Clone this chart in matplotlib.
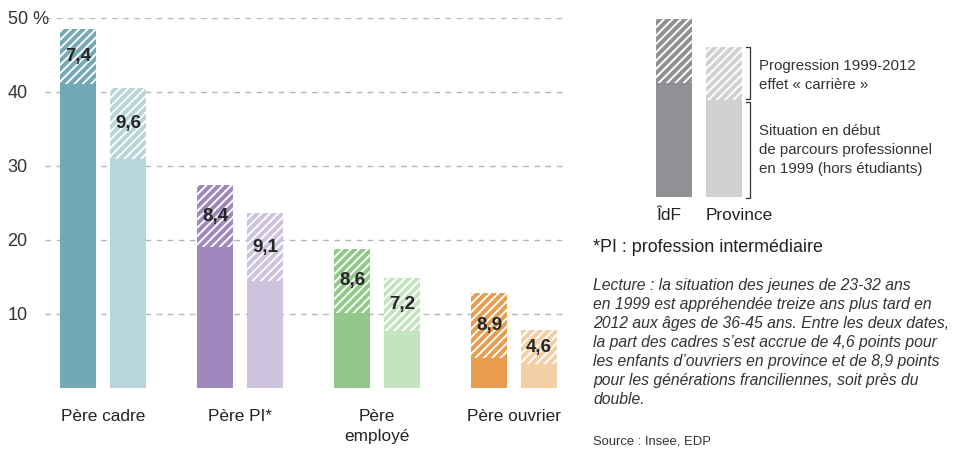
import matplotlib
matplotlib.use("Agg")
import numpy as np
import matplotlib.pyplot as plt
from matplotlib.lines import Line2D

plt.rcParams['font.family'] = ['Liberation Sans', 'DejaVu Sans']
plt.rcParams['hatch.linewidth'] = 1.4

# data
groups = ['Père cadre', 'Père PI*', 'Père\nemployé', 'Père ouvrier']
idf_base = [41.1, 19.0, 10.2, 4.0]
idf_prog = [7.4, 8.4, 8.6, 8.9]
prov_base = [30.9, 14.5, 7.7, 3.2]
prov_prog = [9.6, 9.1, 7.2, 4.6]
idf_colors = ['#72a9b5', '#9e88bd', '#92c78a', '#e79d4d']
prov_colors = ['#b7d5db', '#cdc3de', '#c6e3c1', '#f4cfa6']
yticks = [10, 20, 30, 40, 50]
ytick_labels = ['10', '20', '30', '40', '50 %']

# legend key (illustrative heights)
key_labels = ['ÎdF', 'Province']
key_base = [114, 97]
key_prog = [64, 53]
key_colors = ['#8f9194', '#d0d1d3']

W, H = 964, 450
fig = plt.figure(figsize=(W / 100, H / 100), dpi=100)


def fx(px):
    return px / W


def fy(py):
    return 1 - py / H


ax = fig.add_axes([fx(45), fy(388), fx(565) - fx(45), fy(18) - fy(388)])
x = np.arange(len(groups))
w = 0.263
off = 0.1825

for i in range(len(groups)):
    for xpos, base, prog, col in [(x[i] - off, idf_base[i], idf_prog[i], idf_colors[i]),
                                  (x[i] + off, prov_base[i], prov_prog[i], prov_colors[i])]:
        ax.bar(xpos, base, width=w, color=col, linewidth=0, zorder=2)
        ax.bar(xpos, prog, width=w, bottom=base, color=col, edgecolor='white',
               hatch='////', linewidth=0, zorder=2)
        ax.text(xpos, base + prog / 2, f'{prog:.1f}'.replace('.', ','),
                ha='center', va='center', fontsize=13.5, fontweight='bold',
                color='#262626', zorder=3)

ax.set_xlim(-0.423, 3.372)
ax.set_ylim(0, 50)
ax.set_yticks(yticks)
ax.set_yticklabels(ytick_labels, ha='left')
ax.set_xticks(x)
ax.set_xticklabels(groups, fontsize=12.4, color='#222222', linespacing=1.4)
ax.tick_params(axis='y', length=0, pad=27, labelsize=13, labelcolor='#333333')
ax.tick_params(axis='x', length=0, pad=15)
ax.yaxis.grid(True, color='#b5b5b5', linestyle=(0, (4, 4)), linewidth=1, zorder=0)
ax.set_axisbelow(True)
for s in ax.spines.values():
    s.set_visible(False)

# legend key
kax = fig.add_axes([fx(656), fy(197), fx(742) - fx(656), fy(19) - fy(197)])
kx = np.arange(len(key_labels))
kax.bar(kx, key_base, width=0.72, color=key_colors, linewidth=0)
kax.bar(kx, key_prog, width=0.72, bottom=key_base, color=key_colors,
        edgecolor='white', hatch='////', linewidth=0)
kax.set_xlim(-0.36, 1.36)
kax.set_ylim(0, 178)
kax.axis('off')

for lx, lab in zip([656, 706], key_labels):
    fig.text(fx(lx), fy(215), lab, fontsize=12.4, color='#222222', va='center', ha='left')

# brackets
for top, bot in [(47, 99), (102, 198)]:
    fig.add_artist(Line2D([fx(746), fx(750), fx(750), fx(746)],
                          [fy(top), fy(top), fy(bot), fy(bot)],
                          color='#333333', linewidth=0.9))

kt = dict(fontsize=10.8, color='#333333', va='center')
fig.text(fx(759), fy(66), 'Progression 1999-2012', **kt)
fig.text(fx(759), fy(85), 'effet « carrière »', **kt)
fig.text(fx(759), fy(131), 'Situation en début', **kt)
fig.text(fx(759), fy(150), 'de parcours professionnel', **kt)
fig.text(fx(759), fy(169), 'en 1999 (hors étudiants)', **kt)

fig.text(fx(593), fy(247), '*PI : profession intermédiaire', fontsize=12.9,
         color='#222222', va='center')

lecture = ("Lecture : la situation des jeunes de 23-32 ans\n"
           "en 1999 est appréhendée treize ans plus tard en\n"
           "2012 aux âges de 36-45 ans. Entre les deux dates,\n"
           "la part des cadres s’est accrue de 4,6 points pour\n"
           "les enfants d’ouvriers en province et de 8,9 points\n"
           "pour les générations franciliennes, soit près du\n"
           "double.")
fig.text(fx(593), fy(278), lecture, fontsize=11.3, style='italic', color='#333333',
         va='top', linespacing=1.33)
fig.text(fx(593), fy(442), 'Source : Insee, EDP', fontsize=9.4, color='#333333', va='center')

fig.savefig('out.png', dpi=100)
